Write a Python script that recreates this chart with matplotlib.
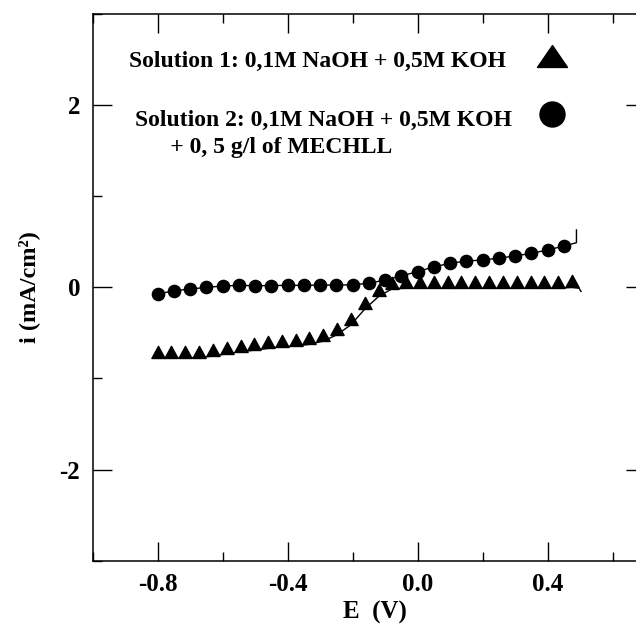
import numpy as np
import matplotlib
matplotlib.use("Agg")
import matplotlib.pyplot as plt
from matplotlib.path import Path
from matplotlib.ticker import MultipleLocator, FormatStrFormatter

# ---------------- data ----------------
# Solution 1 (triangles)
E_sol1 = [-0.800, -0.758, -0.715, -0.673, -0.630, -0.588, -0.545, -0.503,
          -0.460, -0.418, -0.375, -0.333, -0.290, -0.248, -0.205, -0.163,
          -0.120, -0.078, -0.035, 0.008, 0.050, 0.093, 0.135, 0.178,
          0.220, 0.263, 0.305, 0.348, 0.390, 0.433, 0.475]
i_sol1 = [-0.770, -0.775, -0.775, -0.770, -0.755, -0.730, -0.705, -0.690,
          -0.670, -0.650, -0.645, -0.625, -0.590, -0.520, -0.410, -0.240,
          -0.100, -0.015, -0.010, -0.010, -0.010, -0.010, -0.010, -0.010,
          -0.010, -0.010, -0.010, -0.010, -0.010, -0.010, 0.000]
E_sol1_tail = [0.475, 0.497, 0.503]
i_sol1_tail = [0.000, -0.010, -0.045]

# Solution 2 (circles)
E_sol2 = [-0.80, -0.75, -0.70, -0.65, -0.60, -0.55, -0.50, -0.45, -0.40,
          -0.35, -0.30, -0.25, -0.20, -0.15, -0.10, -0.05, 0.00, 0.05,
          0.10, 0.15, 0.20, 0.25, 0.30, 0.35, 0.40, 0.45]
i_sol2 = [-0.074, -0.037, -0.019, 0.000, 0.014, 0.022, 0.018, 0.020, 0.022,
          0.022, 0.025, 0.025, 0.028, 0.045, 0.080, 0.127, 0.171, 0.226,
          0.263, 0.289, 0.300, 0.320, 0.345, 0.373, 0.410, 0.453]
E_sol2_tail = [0.45, 0.489, 0.489]
i_sol2_tail = [0.453, 0.490, 0.630]

label_sol1 = "Solution 1: 0,1M NaOH + 0,5M KOH"
label_sol2 = "Solution 2: 0,1M NaOH + 0,5M KOH\n      + 0, 5 g/l of MECHLL"
x_label = "E  (V)"
y_label = "i (mA/cm²)"

# ---------------- style ----------------
plt.rcParams['font.family'] = ['Liberation Serif', 'DejaVu Serif']
plt.rcParams['font.weight'] = 'bold'
plt.rcParams['axes.unicode_minus'] = False

W, H = 636, 625
fig = plt.figure(figsize=(W / 100, H / 100), dpi=100)
ax_l, ax_r, ax_t, ax_b = 92.7, 645.0, 14.0, 560.7
ax = fig.add_axes([ax_l / W, 1 - ax_b / H, (ax_r - ax_l) / W, (ax_b - ax_t) / H])

# triangle marker sitting on its data point (base on the line)
tri_base = Path([(-0.5, 0.0), (0.5, 0.0), (0.0, 0.92), (-0.5, 0.0)],
                [Path.MOVETO, Path.LINETO, Path.LINETO, Path.CLOSEPOLY])
tri_key = Path([(-1.0, -0.73), (1.0, -0.73), (0.0, 0.73), (-1.0, -0.73)],
               [Path.MOVETO, Path.LINETO, Path.LINETO, Path.CLOSEPOLY])

ax.plot(E_sol1, i_sol1, color='black', lw=1.0, marker=tri_base, ms=17.5,
        mfc='black', mec='black')
ax.plot(E_sol1_tail, i_sol1_tail, color='black', lw=1.0)
ax.plot(E_sol2, i_sol2, color='black', lw=1.0, marker='o', ms=8.8,
        mfc='black', mec='black')
ax.plot(E_sol2_tail, i_sol2_tail, color='black', lw=1.0)

ax.set_xlim(-1.0, 0.7)
ax.set_ylim(-3.0, 3.0)

ax.xaxis.set_major_locator(MultipleLocator(0.4))
ax.xaxis.set_minor_locator(MultipleLocator(0.2))
ax.xaxis.set_major_formatter(FormatStrFormatter('%.1f'))
ax.yaxis.set_major_locator(MultipleLocator(2))
ax.yaxis.set_minor_locator(MultipleLocator(1))
ax.yaxis.set_major_formatter(FormatStrFormatter('%d'))

ax.tick_params(which='both', direction='in', top=True, right=True,
               width=1.0, colors='black')
ax.tick_params(which='major', length=13.7, pad=9, labelsize=18)
ax.tick_params(which='minor', length=6.5)
for lab in ax.get_xticklabels() + ax.get_yticklabels():
    lab.set_fontweight('bold')
for s in ax.spines.values():
    s.set_linewidth(1.1)

ax.set_xlabel(x_label, fontsize=18, fontweight='bold')
ax.xaxis.set_label_coords((375 - ax_l) / (ax_r - ax_l), (ax_b - 601) / (ax_b - ax_t))
ax.set_ylabel(y_label, fontsize=17.5, fontweight='bold')
ax.yaxis.set_label_coords((40 - ax_l) / (ax_r - ax_l), 0.5)

# in-plot key
def axc(px, py):
    return ((px - ax_l) / (ax_r - ax_l), (ax_b - py) / (ax_b - ax_t))

ax.text(*axc(129.3, 66.7), label_sol1, transform=ax.transAxes, ha='left',
        va='baseline', fontsize=17, fontweight='bold')
ax.text(*axc(135, 153.4), label_sol2, transform=ax.transAxes, ha='left',
        va='baseline', fontsize=17, fontweight='bold', linespacing=1.38)
ax.plot(*axc(551.7, 55.8), transform=ax.transAxes, marker=tri_key, ms=21.6,
        color='black', clip_on=False)
ax.plot(*axc(551.7, 114), transform=ax.transAxes, marker='o', ms=18,
        color='black', clip_on=False)

fig.savefig("out.png", dpi=100)
